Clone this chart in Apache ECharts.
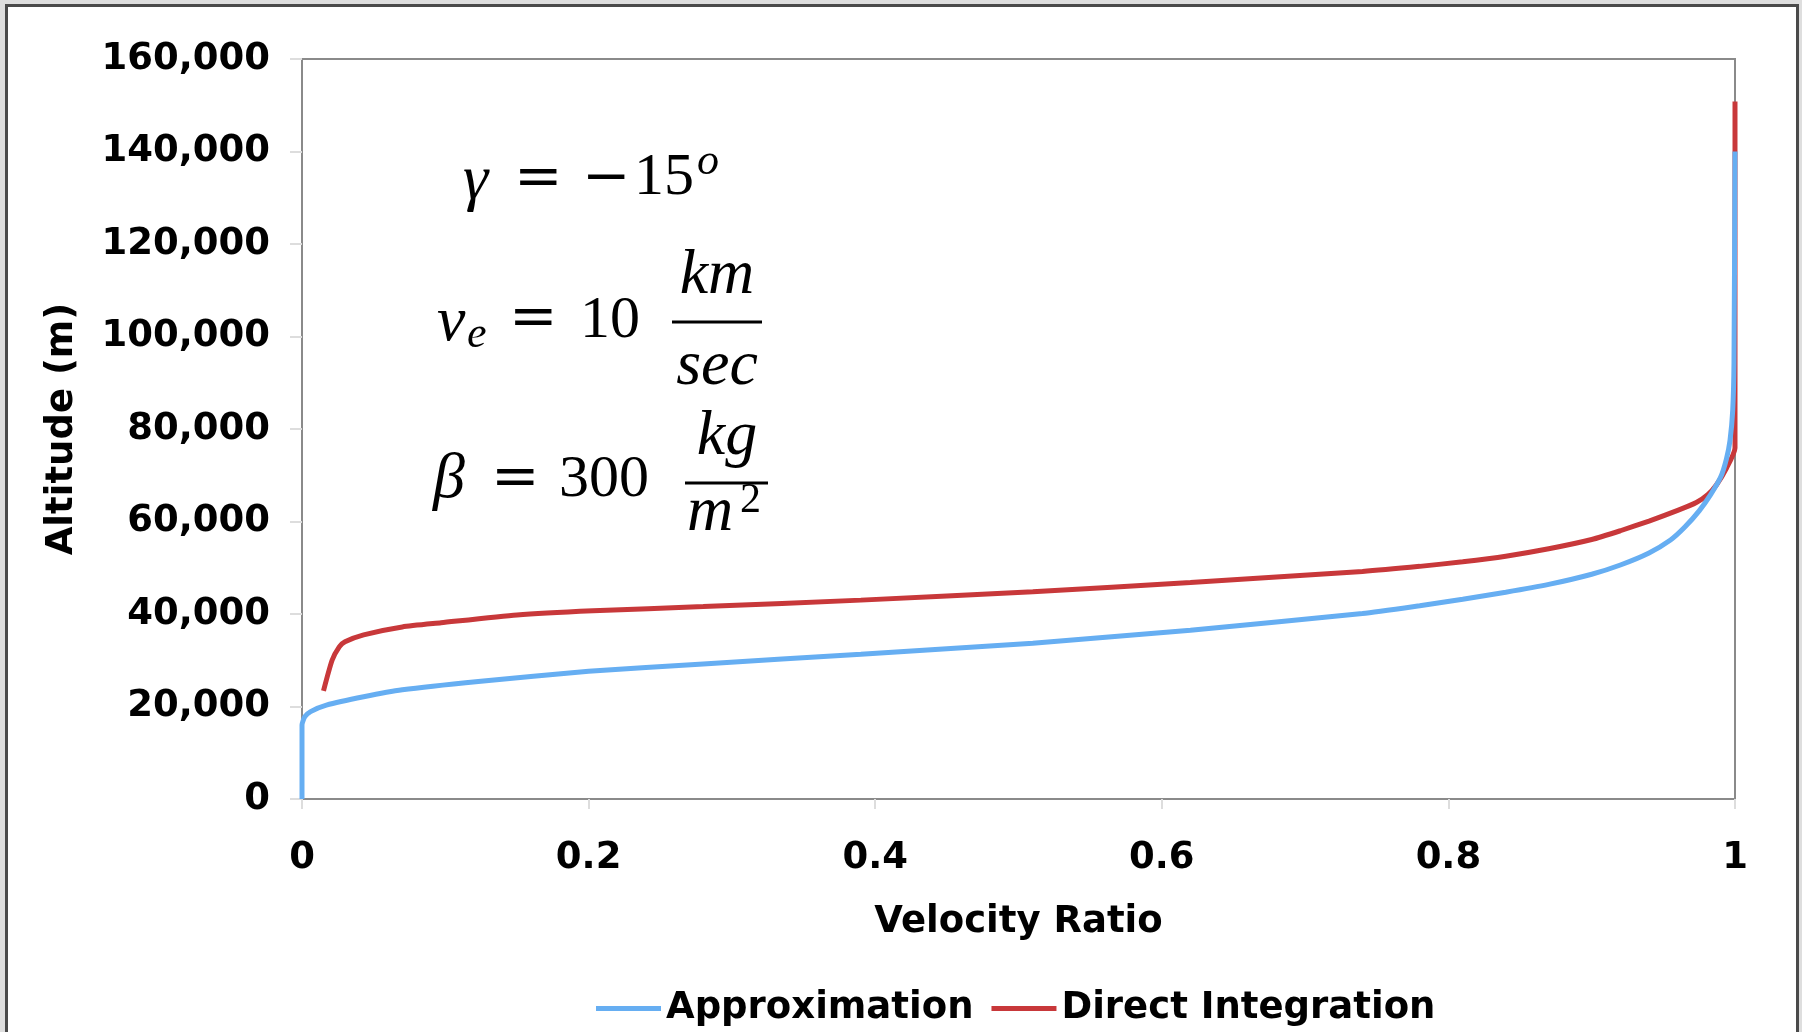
<!DOCTYPE html>
<html lang="en">
<head>
    <meta charset="utf-8">
    <title>Altitude vs Velocity Ratio</title>
    <script src="https://cdn.jsdelivr.net/npm/echarts@6/dist/echarts.min.js"></script>
    <style>
        html, body { margin: 0; padding: 0; background: #dedede; }
        #frame {
            position: absolute; left: 5px; top: 4px; width: 1788px; height: 1100px;
            background: #ffffff; border: 3px solid #4a4a4a;
        }
        #main { position: absolute; left: 0; top: 0; width: 1802px; height: 1032px; }
    </style>
</head>
<body>
<div id="frame"></div>
<div id="main"></div>
<script>
    // x ticks / y ticks
    var ratioTicks = [0, 0.2, 0.4, 0.6, 0.8, 1];
    var altTicks = [0, 20000, 40000, 60000, 80000, 100000, 120000, 140000, 160000];

    // Approximation (blue)
    var approxRatio = [0, 0, 0.002, 0.006, 0.017, 0.043, 0.07, 0.123, 0.2, 0.28, 0.39, 0.51, 0.62, 0.74, 0.78, 0.81, 0.84, 0.87,
        0.9, 0.92, 0.94, 0.955, 0.965, 0.975, 0.983, 0.99, 0.994, 0.9965, 0.9984, 0.9993, 1.0];
    var approxAlt = [0, 16000, 17800, 18900, 20300, 22100, 23600, 25400, 27600, 29200, 31300, 33700, 36500, 40100, 41800, 43200, 44700, 46400,
        48600, 50600, 53200, 56000, 58800, 62300, 65800, 69600, 73500, 77500, 84000, 94500, 140000];

    // Direct Integration (red)
    var directRatio = [0.015, 0.021, 0.026, 0.03, 0.043, 0.07, 0.097, 0.15, 0.203, 0.28, 0.39, 0.51, 0.62, 0.74, 0.78, 0.81, 0.84, 0.87,
        0.9, 0.92, 0.94, 0.96, 0.973, 0.981, 0.987, 0.994, 1.0, 1.0];
    var directAlt = [23400, 30000, 32900, 34000, 35500, 37200, 38100, 39800, 40700, 41600, 43000, 44800, 46800, 49200, 50300, 51300, 52500, 54100,
        56100, 58000, 60100, 62400, 64100, 65800, 67900, 71500, 75900, 150800];

    function zip(xs, ys) {
        return xs.map(function (x, i) { return [x, ys[i]]; });
    }

    var bold = {fontFamily: 'DejaVu Sans', fontWeight: 'bold', fontSize: 37, color: '#000'};
    var serif = '60px "Liberation Serif"';
    var serifIt = 'italic 64px "Liberation Serif"';
    var smallIt = 'italic 44px "Liberation Serif"';
    var small = '42px "Liberation Serif"';
    var op = '58px "DejaVu Serif"';

    function txt(s, x, y, font, align) {
        return {
            type: 'text', x: x, y: y,
            style: {text: s, font: font, fill: '#000', textAlign: align || 'left', textVerticalAlign: 'middle'}
        };
    }

    function bar(x1, x2, y) {
        return {type: 'line', shape: {x1: x1, y1: y, x2: x2, y2: y}, style: {stroke: '#000', lineWidth: 3}};
    }

    var chart = echarts.init(document.getElementById('main'));
    var option = {
        backgroundColor: 'transparent',
        animation: false,
        grid: {
            left: 302, right: 67, top: 59, bottom: 233,
            show: true, borderColor: '#8a8a8a', borderWidth: 2, backgroundColor: '#fff'
        },
        legend: {
            left: 591, top: 985,
            icon: 'rect', itemWidth: 65, itemHeight: 5, itemGap: 18,
            textStyle: bold,
            data: ['Approximation', 'Direct Integration']
        },
        xAxis: {
            type: 'value', min: ratioTicks[0], max: ratioTicks[ratioTicks.length - 1], interval: 0.2,
            name: 'Velocity Ratio', nameLocation: 'middle', nameGap: 105, nameTextStyle: bold,
            axisLine: {lineStyle: {color: '#8a8a8a', width: 2}},
            axisTick: {show: true, length: 10, lineStyle: {color: '#dddddd', width: 2}},
            axisLabel: Object.assign({margin: 41}, bold),
            splitLine: {show: false}
        },
        yAxis: {
            type: 'value', min: altTicks[0], max: altTicks[altTicks.length - 1], interval: 20000,
            name: 'Altitude (m)', nameLocation: 'middle', nameRotate: 90, nameGap: 221, nameTextStyle: bold,
            axisLine: {show: true, lineStyle: {color: '#8a8a8a', width: 2}},
            axisTick: {show: true, length: 12, lineStyle: {color: '#dddddd', width: 2}},
            axisLabel: Object.assign({
                margin: 32,
                formatter: function (v) { return v.toLocaleString('en-US'); }
            }, bold),
            splitLine: {show: false}
        },
        series: [
            {
                name: 'Approximation', type: 'line', showSymbol: false, z: 3, smooth: 0.2,
                data: zip(approxRatio, approxAlt),
                itemStyle: {color: '#66aef2'},
                lineStyle: {color: '#66aef2', width: 5}
            },
            {
                name: 'Direct Integration', type: 'line', showSymbol: false, z: 2, smooth: 0.2,
                data: zip(directRatio, directAlt),
                itemStyle: {color: '#c8383a'},
                lineStyle: {color: '#c8383a', width: 5}
            }
        ],
        graphic: [
            // gamma line
            txt('γ', 463, 181, serifIt),
            txt('=', 514, 180, op),
            txt('−', 582, 180, op),
            txt('15', 634, 178, serif),
            txt('o', 697, 162, smallIt),
            // v_e line
            txt('v', 437, 323, serifIt),
            txt('e', 467, 335, smallIt),
            txt('=', 509, 320, op),
            txt('10', 580, 321, serif),
            txt('km', 717, 276, serifIt, 'center'),
            bar(672, 762, 322),
            txt('sec', 717, 367, serifIt, 'center'),
            // beta line
            txt('β', 433, 480, serifIt),
            txt('=', 491, 480, op),
            txt('300', 559, 480, serif),
            txt('kg', 727, 437, serifIt, 'center'),
            bar(685, 768, 483),
            txt('m', 687, 513, serifIt),
            txt('2', 740, 501, small)
        ]
    };
    chart.setOption(option);
</script>
</body>
</html>
